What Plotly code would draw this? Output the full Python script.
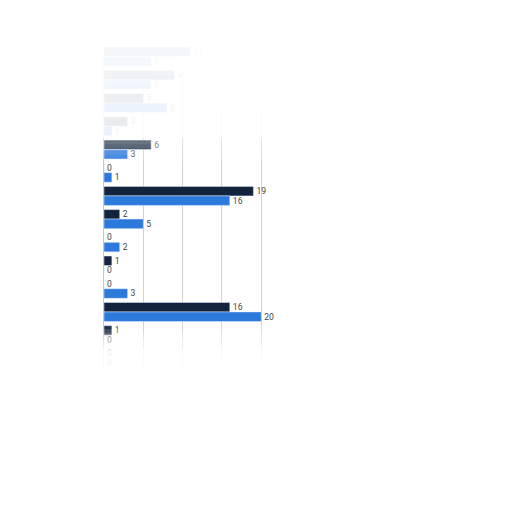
import plotly.graph_objects as go

# Catégories (libellés masqués dans la référence)
categories = [f"Cat {i}" for i in range(1, 15)]

# Valeurs (haut -> bas)
serie_sombre = [11, 9, 5, 3, 6, 0, 19, 2, 0, 1, 0, 16, 1, 0]
serie_bleue = [6, 6, 8, 1, 3, 1, 16, 5, 2, 0, 3, 20, 0, 0]

W, H = 512, 512
OFF = 8  # marge par défaut du <body>
M_LEFT, M_RIGHT, M_TOP, M_BOTTOM = 96, 243, 37, 150

fig = go.Figure()
fig.add_trace(go.Bar(
    y=categories, x=serie_sombre, orientation='h', name='A',
    marker=dict(color='#12233d'),
    text=serie_sombre, textposition='outside', cliponaxis=False,
    textfont=dict(size=9, color='#444', family='Roboto'),
))
fig.add_trace(go.Bar(
    y=categories, x=serie_bleue, orientation='h', name='B',
    marker=dict(color='#2c79dc'),
    text=serie_bleue, textposition='outside', cliponaxis=False,
    textfont=dict(size=9, color='#444', family='Roboto'),
))

# Fondu blanc en haut et en bas (bandes semi-transparentes)
plot_h = H - M_TOP - M_BOTTOM


def py(px):
    # pixel vertical de la page -> coordonnée paper
    return (H - M_BOTTOM - (px - OFF)) / plot_h


shapes = []


def fade(y0, y1, a0, a1, steps):
    for k in range(steps):
        ya = y0 + (y1 - y0) * k / steps
        yb = y0 + (y1 - y0) * (k + 1) / steps
        a = a0 + (a1 - a0) * (k + 0.5) / steps
        shapes.append(dict(type='rect', xref='paper', yref='paper', layer='above',
                           x0=-0.2, x1=1.3, y0=py(yb), y1=py(ya),
                           fillcolor=f'rgba(255,255,255,{a:.3f})', line=dict(width=0)))


fade(30, 138, 0.97, 0.9, 12)
fade(138, 165, 0.45, 0.0, 8)
fade(325, 350, 0.0, 0.85, 6)
fade(350, 400, 0.9, 1.0, 6)

fig.update_layout(
    width=W, height=H,
    margin=dict(l=M_LEFT, r=M_RIGHT, t=M_TOP, b=M_BOTTOM),
    paper_bgcolor='white', plot_bgcolor='white',
    barmode='group', bargap=0.18, bargroupgap=0,
    showlegend=False,
    shapes=shapes,
    font=dict(family='Roboto', size=9, color='#444'),
)
fig.update_xaxes(range=[0, 22], showgrid=True, gridcolor='#d2d2d2', gridwidth=1,
                 dtick=5, showticklabels=False, zeroline=False)
fig.update_yaxes(autorange='reversed', showticklabels=False, showline=True,
                 linecolor='#c8c8c8', linewidth=1, ticks='')

fig.write_html("out.html")
